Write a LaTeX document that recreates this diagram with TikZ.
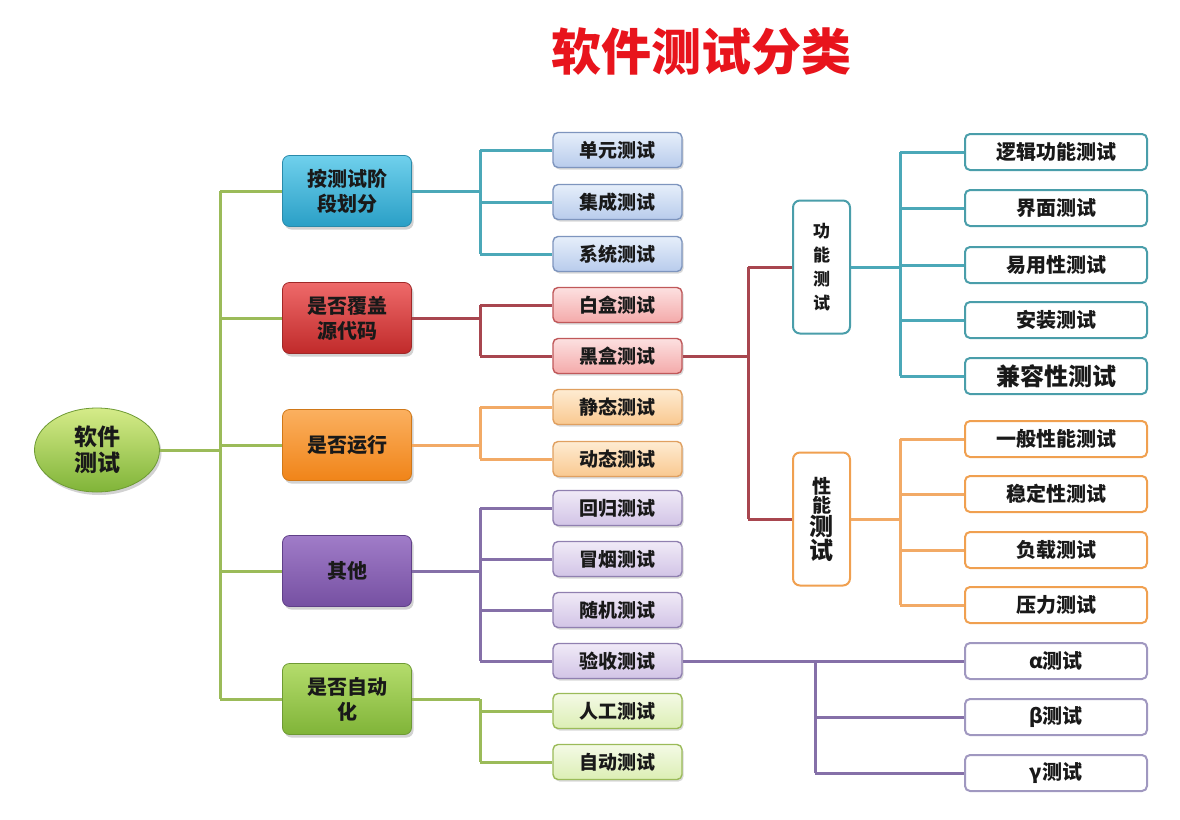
\documentclass[tikz,border=0pt]{standalone}
\usepackage{fontspec}
\setmainfont{Noto Sans CJK SC}
\usetikzlibrary{shadows,shapes.geometric}
\definecolor{titlered}{HTML}{E8141C}
\definecolor{trunkc}{HTML}{9BBB59}
\definecolor{bluec}{HTML}{4BA8B8}
\definecolor{redc}{HTML}{A8464F}
\definecolor{orangec}{HTML}{F2AA66}
\definecolor{purplec}{HTML}{8570A8}
\definecolor{tealb}{HTML}{4A9EAA}
\definecolor{orangeb}{HTML}{F0A050}
\definecolor{purpleb}{HTML}{A098C0}
% category fills
\definecolor{cBt}{HTML}{6FD0EC}\definecolor{cBb}{HTML}{2A9FC6}\definecolor{cBd}{HTML}{2A8AAA}
\definecolor{cRt}{HTML}{EE6A6A}\definecolor{cRb}{HTML}{C02A2A}\definecolor{cRd}{HTML}{A02828}
\definecolor{cOt}{HTML}{FBB060}\definecolor{cOb}{HTML}{F08418}\definecolor{cOd}{HTML}{D07818}
\definecolor{cPt}{HTML}{A07CC8}\definecolor{cPb}{HTML}{7650A2}\definecolor{cPd}{HTML}{604088}
\definecolor{cGt}{HTML}{B4DC6C}\definecolor{cGb}{HTML}{80B438}\definecolor{cGd}{HTML}{6E9A34}
% leaf fills
\definecolor{lBt}{HTML}{E6EEFA}\definecolor{lBb}{HTML}{B8CCEC}\definecolor{lBd}{HTML}{7E95BE}
\definecolor{lRt}{HTML}{FCE0E0}\definecolor{lRb}{HTML}{F4AAAA}\definecolor{lRd}{HTML}{C0585A}
\definecolor{lOt}{HTML}{FEEBD2}\definecolor{lOb}{HTML}{F9C890}\definecolor{lOd}{HTML}{E0A060}
\definecolor{lPt}{HTML}{F0EAF7}\definecolor{lPb}{HTML}{D2C4E6}\definecolor{lPd}{HTML}{9080B0}
\definecolor{lGt}{HTML}{F4FAE6}\definecolor{lGb}{HTML}{DCEEB4}\definecolor{lGd}{HTML}{9BBB59}
\begin{document}
\begin{tikzpicture}[x=1pt,y=-1pt,
  conn/.style={line width=3pt},
  cat/.style={rectangle, rounded corners=7pt, minimum width=129pt, minimum height=71pt,
    line width=0.8pt, align=center, text=black!90,
    font=\fontsize{20}{25}\selectfont\bfseries,
    drop shadow={shadow xshift=2pt, shadow yshift=-3pt, opacity=0.35}},
  leaf/.style={rectangle, rounded corners=5pt, minimum width=129pt, minimum height=35pt,
    line width=1.4pt, text=black!90, font=\fontsize{19}{22}\selectfont\bfseries,
    drop shadow={shadow xshift=1.5pt, shadow yshift=-2pt, opacity=0.3}},
  rleaf/.style={rectangle, rounded corners=5pt, minimum width=182pt, minimum height=36pt,
    line width=2pt, fill=white, text=black!90, font=\fontsize{20}{22}\selectfont\bfseries},
  vbox/.style={rectangle, rounded corners=7pt, minimum width=57pt, minimum height=133pt,
    line width=2pt, fill=white, align=center, text=black!90},
  lblue/.style={leaf, draw=lBd, top color=lBt, bottom color=lBb},
  lred/.style={leaf, draw=lRd, top color=lRt, bottom color=lRb},
  lorange/.style={leaf, draw=lOd, top color=lOt, bottom color=lOb},
  lpurple/.style={leaf, draw=lPd, top color=lPt, bottom color=lPb},
  lgreen/.style={leaf, draw=lGd, top color=lGt, bottom color=lGb}
]
\useasboundingbox (0,0) rectangle (1180,819);
\fill[white] (0,0) rectangle (1180,819);

% title
\node[text=titlered, font=\fontsize{50}{50}\selectfont\bfseries] (title) at (701,52) {软件测试分类};

% root
\node[ellipse, minimum width=125pt, minimum height=84pt, draw=cGd, line width=0.8pt,
  top color=cGt!80!yellow!70!white, bottom color=cGb, align=center,
  text=black!90, font=\fontsize{23}{26}\selectfont\bfseries,
  drop shadow={shadow xshift=2pt, shadow yshift=-3pt, opacity=0.35}] (root) at (97,450) {软件\\测试};

% categories
\node[cat, draw=cBd, top color=cBt, bottom color=cBb] (c1) at (347,191) {按测试阶\\段划分};
\node[cat, draw=cRd, top color=cRt, bottom color=cRb] (c2) at (347,318) {是否覆盖\\源代码};
\node[cat, draw=cOd, top color=cOt, bottom color=cOb] (c3) at (347,445) {是否运行};
\node[cat, draw=cPd, top color=cPt, bottom color=cPb] (c4) at (347,571) {其他};
\node[cat, draw=cGd, top color=cGt, bottom color=cGb] (c5) at (347,699) {是否自动\\化};

% leaves
\node[lblue] (l1) at (617.5,150) {单元测试};
\node[lblue] (l2) at (617.5,202) {集成测试};
\node[lblue] (l3) at (617.5,254) {系统测试};
\node[lred] (l4) at (617.5,305) {白盒测试};
\node[lred] (l5) at (617.5,356) {黑盒测试};
\node[lorange] (l6) at (617.5,407) {静态测试};
\node[lorange] (l7) at (617.5,459) {动态测试};
\node[lpurple] (l8) at (617.5,508) {回归测试};
\node[lpurple] (l9) at (617.5,559) {冒烟测试};
\node[lpurple] (l10) at (617.5,610) {随机测试};
\node[lpurple] (l11) at (617.5,661) {验收测试};
\node[lgreen] (l12) at (617.5,711) {人工测试};
\node[lgreen] (l13) at (617.5,762) {自动测试};

% vertical boxes
\node[vbox, draw=tealb, font=\fontsize{17}{24}\selectfont\bfseries] (f1) at (821.5,267) {功\\能\\测\\试};
\node[vbox, draw=orangeb] (f2) at (821.5,519) {{\fontsize{19}{24}\selectfont\bfseries 性}\\{\fontsize{19}{24}\selectfont\bfseries 能}\\{\fontsize{24}{28}\selectfont\bfseries 测}\\{\fontsize{24}{28}\selectfont\bfseries 试}};

% right leaves
\node[rleaf, draw=tealb] (g1) at (1056,152) {逻辑功能测试};
\node[rleaf, draw=tealb] (g2) at (1056,208) {界面测试};
\node[rleaf, draw=tealb] (g3) at (1056,265) {易用性测试};
\node[rleaf, draw=tealb] (g4) at (1056,320) {安装测试};
\node[rleaf, draw=tealb, font=\fontsize{24}{26}\selectfont\bfseries] (g5) at (1056,376) {兼容性测试};
\node[rleaf, draw=orangeb] (h1) at (1056,439) {一般性能测试};
\node[rleaf, draw=orangeb] (h2) at (1056,494) {稳定性测试};
\node[rleaf, draw=orangeb] (h3) at (1056,550) {负载测试};
\node[rleaf, draw=orangeb] (h4) at (1056,605) {压力测试};
\node[rleaf, draw=purpleb] (p1) at (1056,661) {α测试};
\node[rleaf, draw=purpleb] (p2) at (1056,717) {β测试};
\node[rleaf, draw=purpleb] (p3) at (1056,773) {γ测试};

% junction x positions
\coordinate (t) at (220,0);
\coordinate (b) at (480,0);
\coordinate (k) at (748,0);
\coordinate (r) at (900,0);
\coordinate (a) at (815,0);

% trunk
\draw[conn, trunkc] (root.east) -- (root.east -| t);
\draw[conn, trunkc] (c1.west -| t) -- (c5.west -| t);
\foreach \c in {c1,c2,c3,c4,c5} \draw[conn, trunkc] (\c.west -| t) -- (\c.west);

% blue
\draw[conn, bluec] (c1.east) -- (c1.east -| b);
\draw[conn, bluec] (l1.west -| b) -- (l3.west -| b);
\foreach \l in {l1,l2,l3} \draw[conn, bluec] (\l.west -| b) -- (\l.west);
% red
\draw[conn, redc] (c2.east) -- (c2.east -| b);
\draw[conn, redc] (l4.west -| b) -- (l5.west -| b);
\foreach \l in {l4,l5} \draw[conn, redc] (\l.west -| b) -- (\l.west);
% orange
\draw[conn, orangec] (c3.east) -- (c3.east -| b);
\draw[conn, orangec] (l6.west -| b) -- (l7.west -| b);
\foreach \l in {l6,l7} \draw[conn, orangec] (\l.west -| b) -- (\l.west);
% purple
\draw[conn, purplec] (c4.east) -- (c4.east -| b);
\draw[conn, purplec] (l8.west -| b) -- (l11.west -| b);
\foreach \l in {l8,l9,l10,l11} \draw[conn, purplec] (\l.west -| b) -- (\l.west);
% green
\draw[conn, trunkc] (c5.east) -- (c5.east -| b);
\draw[conn, trunkc] (c5.east -| b) -- (l13.west -| b);
\foreach \l in {l12,l13} \draw[conn, trunkc] (\l.west -| b) -- (\l.west);

% black box to functional / performance
\draw[conn, redc] (l5.east) -- (l5.east -| k);
\draw[conn, redc] (f1.west -| k) -- (f2.west -| k);
\foreach \f in {f1,f2} \draw[conn, redc] (\f.west -| k) -- (\f.west);

% functional
\draw[conn, bluec] (f1.east) -- (f1.east -| r);
\draw[conn, bluec] (g1.west -| r) -- (g5.west -| r);
\foreach \g in {g1,g2,g3,g4,g5} \draw[conn, bluec] (\g.west -| r) -- (\g.west);
% performance
\draw[conn, orangec] (f2.east) -- (f2.east -| r);
\draw[conn, orangec] (h1.west -| r) -- (h4.west -| r);
\foreach \h in {h1,h2,h3,h4} \draw[conn, orangec] (\h.west -| r) -- (\h.west);
% acceptance
\draw[conn, purplec] (l11.east) -- (l11.east -| a);
\draw[conn, purplec] (l11.east -| a) -- (p3.west -| a);
\foreach \p in {p1,p2,p3} \draw[conn, purplec] (\p.west -| a) -- (\p.west);
\end{tikzpicture}
\end{document}
